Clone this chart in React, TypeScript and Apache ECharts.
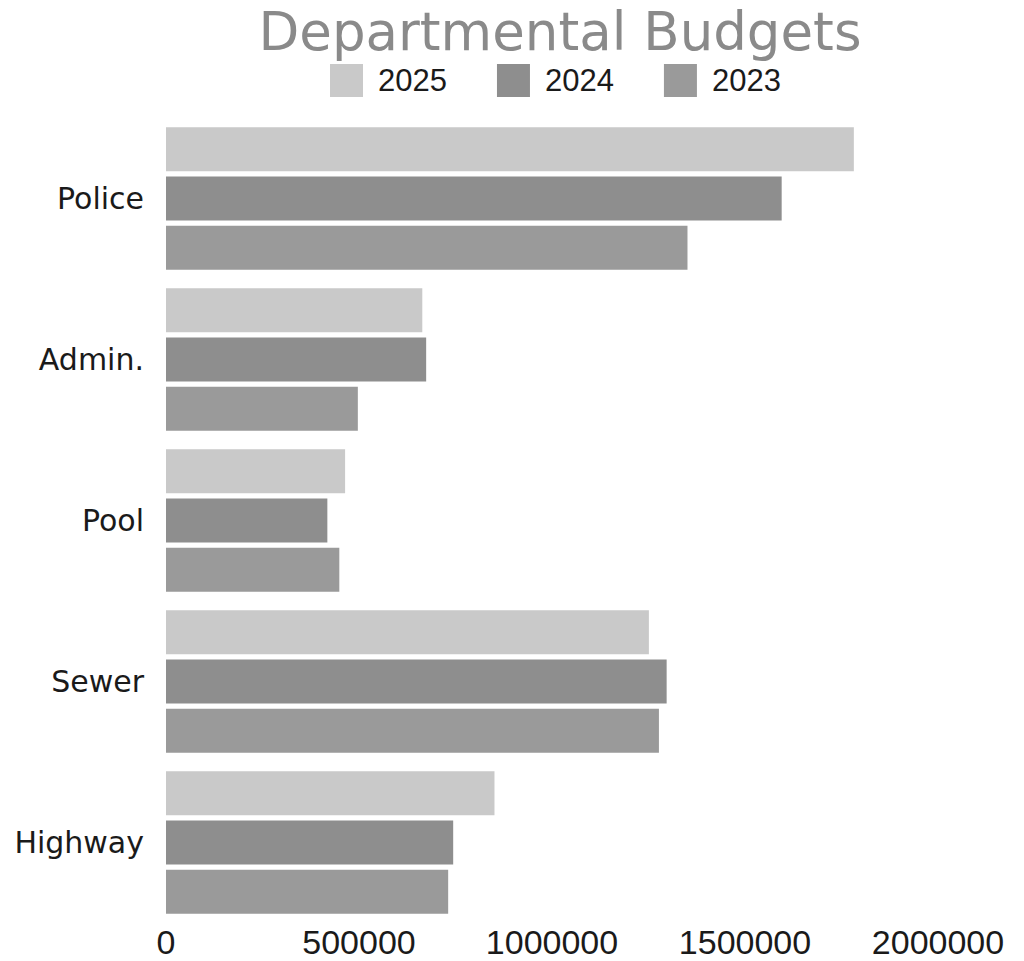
import React, { useEffect, useRef } from "react";
import * as echarts from "echarts";

const categories = ["Police", "Admin.", "Pool", "Sewer", "Highway"];
const years = ["2025", "2024", "2023"];
const values2025 = [1782000, 664000, 464000, 1251000, 851000];
const values2024 = [1595000, 674000, 418000, 1297000, 744000];
const values2023 = [1351000, 497000, 449000, 1277000, 731000];
const xTicks = [0, 500000, 1000000, 1500000, 2000000];
const colors = ["#c9c9c9", "#8e8e8e", "#9a9a9a"];

export default function App() {
  const ref = useRef<HTMLDivElement>(null);
  useEffect(() => {
    document.body.style.margin = "0";
    const chart = echarts.init(ref.current!, null, { renderer: "svg" });
    const titleFont = "'DejaVu Sans', sans-serif";
    const numFont = "'Liberation Sans', sans-serif";
    const catFont = "'DejaVu Sans', sans-serif";
    chart.setOption({
      animation: false,
      backgroundColor: "#ffffff",
      color: colors,
      title: {
        text: "Departmental Budgets",
        left: 560,
        textAlign: "center",
        top: 4,
        padding: 0,
        textStyle: {
          fontFamily: titleFont,
          fontSize: 53,
          lineHeight: 54,
          fontWeight: "normal",
          color: "#8a8a8a",
        },
      },
      legend: {
        data: years,
        top: 64,
        left: 330,
        padding: 0,
        itemWidth: 33,
        itemHeight: 33,
        itemGap: 50,
        icon: "rect",
        textStyle: {
          fontFamily: numFont,
          fontSize: 31,
          lineHeight: 33,
          color: "#1a1a1a",
          padding: [0, 0, 0, 10],
        },
      },
      grid: { left: 166, right: 86, top: 118, bottom: 38, containLabel: false },
      xAxis: {
        type: "value",
        min: xTicks[0],
        max: xTicks[xTicks.length - 1],
        interval: 500000,
        axisLine: { show: false },
        axisTick: { show: false },
        splitLine: { show: false },
        axisLabel: {
          fontFamily: numFont,
          fontSize: 34,
          lineHeight: 35,
          color: "#1a1a1a",
          margin: 1,
          formatter: (v: number) => String(v),
        },
      },
      yAxis: {
        type: "category",
        data: categories,
        inverse: true,
        axisLine: { show: false },
        axisTick: { show: false },
        axisLabel: { fontFamily: catFont, fontSize: 30, color: "#1a1a1a", margin: 22 },
      },
      series: [
        { name: years[0], type: "bar", data: values2025, barWidth: 44, barGap: "12%" },
        { name: years[1], type: "bar", data: values2024, barWidth: 44, barGap: "12%" },
        { name: years[2], type: "bar", data: values2023, barWidth: 44, barGap: "12%" },
      ],
    });
    return () => chart.dispose();
  }, []);
  return <div ref={ref} style={{ width: 1024, height: 961 }} />;
}
